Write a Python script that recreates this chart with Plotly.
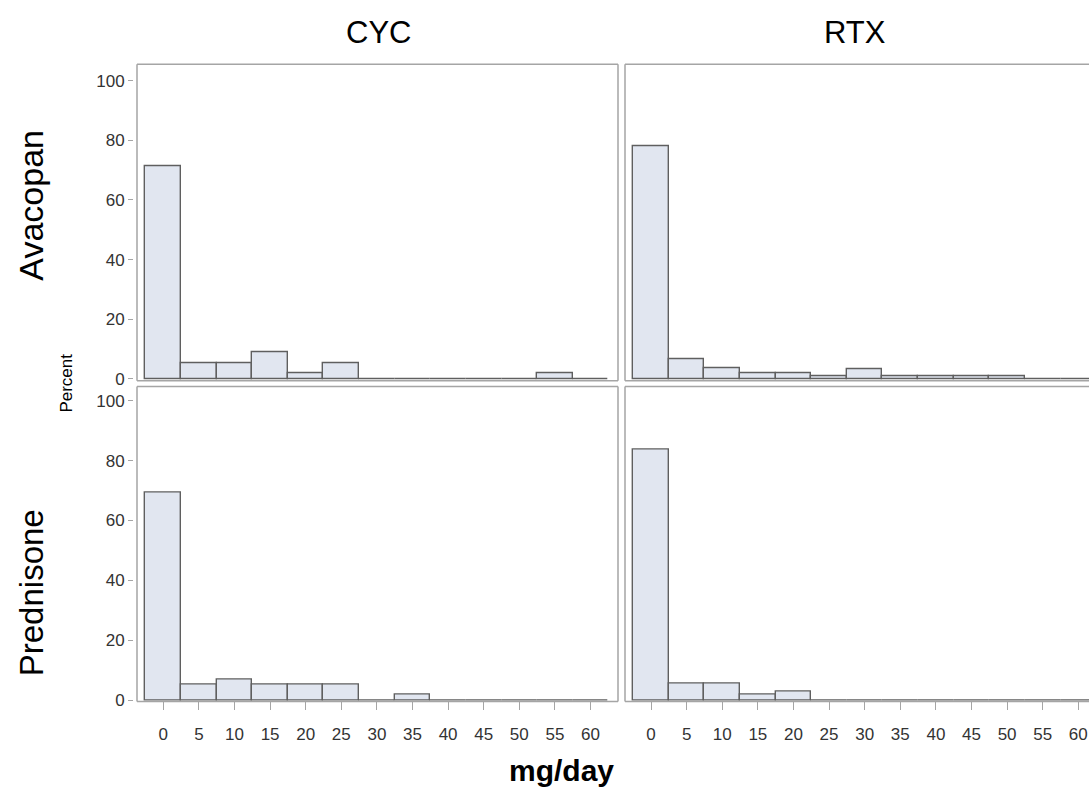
import plotly.graph_objects as go

# ---- data ----
bins = [0, 5, 10, 15, 20, 25, 30, 35, 40, 45, 50, 55, 60]
tick_labels = ["0", "5", "10", "15", "20", "25", "30", "35", "40", "45", "50", "55", "60"]
col_titles = ["CYC", "RTX"]
row_titles = ["Avacopan", "Prednisone"]
avacopan_cyc = [71.4, 5.4, 5.4, 8.9, 1.8, 5.4, 0, 0, 0, 0, 0, 1.8, 0]
avacopan_rtx = [78.1, 6.5, 3.6, 1.8, 1.8, 0.9, 3.1, 0.9, 0.9, 0.9, 0.9, 0, 0]
prednisone_cyc = [69.4, 5.3, 6.9, 5.3, 5.3, 5.3, 0, 1.8, 0, 0, 0, 0, 0]
prednisone_rtx = [83.7, 5.7, 5.7, 2.0, 2.75, 0, 0, 0, 0, 0, 0, 0, 0]
y_ticks = [0, 20, 40, 60, 80, 100]

W, H = 1089, 798
FILL = "#E1E6F0"
EDGE = "#5F5F5F"
BORDER = "#A5A5A5"
FONT = "Liberation Sans, Arial, sans-serif"

def px_x(p):
    return p / W

def px_y(p):
    return 1 - p / H

# panel pixel boxes in screen coords (left, right, top, bottom)
panels = {
    "tl": (137, 618, 65, 385),
    "tr": (625, 1089, 65, 385),
    "bl": (137, 618, 391, 709.5),
    "br": (625, 1089, 391, 709.5),
}

fig = go.Figure()
series = [("tl", avacopan_cyc, "x", "y"), ("tr", avacopan_rtx, "x2", "y2"),
          ("bl", prednisone_cyc, "x3", "y3"), ("br", prednisone_rtx, "x4", "y4")]
for key, vals, xa, ya in series:
    fig.add_trace(go.Bar(x=bins, y=vals, width=5, xaxis=xa, yaxis=ya,
                         marker=dict(color=FILL, line=dict(color=EDGE, width=1.4)),
                         showlegend=False, hoverinfo="x+y"))

layout = dict(width=W, height=H, margin=dict(l=0, r=0, t=0, b=0),
              plot_bgcolor="white", paper_bgcolor="white", bargap=0,
              font=dict(family=FONT, color="#333333"))

xr_left = [-3.69, 63.86]
xr_right = [-3.65, 61.5]
yr_top = [-0.56, 105.5]
yr_bot = [-0.4, 104.7]

axis_names = {"tl": ("xaxis", "yaxis", "x", "y"), "tr": ("xaxis2", "yaxis2", "x2", "y2"),
              "bl": ("xaxis3", "yaxis3", "x3", "y3"), "br": ("xaxis4", "yaxis4", "x4", "y4")}
for key, (l, r, t, b) in panels.items():
    xn, yn, xs, ys = axis_names[key]
    bottom = key in ("bl", "br")
    left = key in ("tl", "bl")
    xax = dict(domain=[px_x(l), min(px_x(r), 1.0)], anchor=ys,
               range=xr_left if left else xr_right,
               showgrid=False, zeroline=False, showline=False,
               tickvals=bins, ticktext=tick_labels,
               showticklabels=bottom, ticks="outside" if bottom else "",
               ticklen=8, tickcolor=BORDER, tickwidth=1.3, ticklabelstandoff=9,
               ticklabeloverflow="allow",
               tickfont=dict(size=17, color="#333333", family=FONT))
    yax = dict(domain=[px_y(b), px_y(t)], range=yr_top if key in ("tl", "tr") else yr_bot,
               showgrid=False, zeroline=False, showline=False,
               tickvals=y_ticks, showticklabels=left, ticks="outside" if left else "",
               ticklen=5, tickcolor=BORDER, tickwidth=1.3,
               tickfont=dict(size=17, color="#333333", family=FONT))
    if left:
        yax.update(anchor="free", position=px_x(l - 4))
    else:
        yax.update(anchor=xs)
    layout[xn] = xax
    layout[yn] = yax

fig.update_layout(**layout)

# panel borders
for key, (l, r, t, b) in panels.items():
    x0, x1, y0, y1 = px_x(l), min(px_x(r), 1.0), px_y(b), px_y(t)
    segs = [(x0, y0, x0, y1), (x0, y1, x1, y1), (x0, y0, x1, y0)]
    if key in ("tl", "bl"):
        segs.append((x1, y0, x1, y1))
    for (a, bb, c, d) in segs:
        fig.add_shape(type="line", xref="paper", yref="paper", x0=a, y0=bb, x1=c, y1=d,
                      line=dict(color=BORDER, width=1.5))

def note(text, x, y, size, angle=0):
    fig.add_annotation(text=text, x=px_x(x), y=px_y(y), xref="paper", yref="paper",
                       xanchor="center", yanchor="middle", showarrow=False,
                       textangle=angle, font=dict(size=size, color="black", family=FONT))

# column titles
note(col_titles[0], 378, 33, 31)
note(col_titles[1], 855, 33, 31)
# row titles
note(row_titles[0], 31, 208, 34, -90)
note(row_titles[1], 31, 600, 33, -90)
# axis titles
note("Percent", 67, 388, 17, -90)
note("<b>mg/day</b>", 561, 779, 30)

fig.write_html(
    "out.html",
    config={"displayModeBar": False},
    post_script="document.body.style.margin='0';document.body.style.overflow='hidden';",
)
